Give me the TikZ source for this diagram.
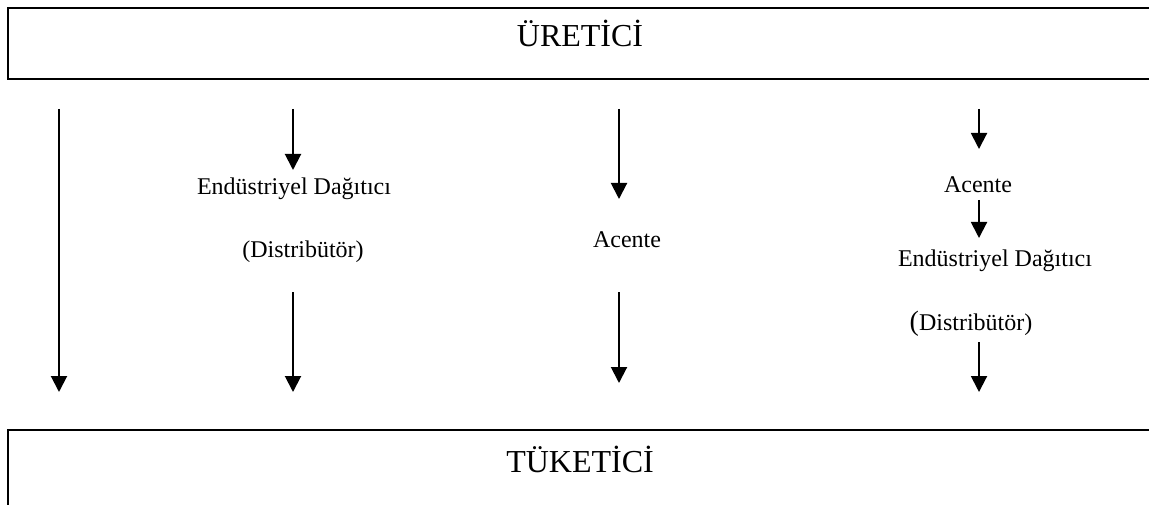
\documentclass[tikz,border=0pt]{standalone}
\usepackage{fontspec}
\setmainfont{Liberation Serif}
\usetikzlibrary{positioning, arrows.meta}
\tikzset{
    band/.style={draw, line width=1bp, minimum width=572bp, inner sep=0pt},
    bandtext/.style={anchor=base, inner sep=0pt, font=\fontsize{16bp}{19bp}\selectfont},
    chantext/.style={anchor=base, inner sep=0pt, font=\fontsize{12bp}{14bp}\selectfont},
    flow/.style={-{Triangle[length=8bp, width=8bp]}, line width=1bp}
}

\begin{document}
\begin{tikzpicture}[x=0.5bp, y=-0.5bp]
    \useasboundingbox (0,0) rectangle (1149,505);
    % producer and consumer bands (cut off at the page edge)
    \node[band, minimum height=35.5bp] (ureticibox) at (580,43.5) {};
    \node[bandtext] (uretici) at (580,47) {ÜRETİCİ};
    \node[band, minimum height=45bp] (tuketicibox) at (580,475) {};
    \node[bandtext] (tuketici) at (580,472) {TÜKETİCİ};

    % intermediaries
    \node[chantext] (dagitici2) at (294,195) {Endüstriyel Dağıtıcı};
    \node[chantext] (distrib2) at (303,258) {(Distribütör)};
    \node[chantext] (acente3) at (627,248) {Acente};
    \node[chantext] (acente4) at (978,193) {Acente};
    \node[chantext] (dagitici4) at (995,267) {Endüstriyel Dağıtıcı};
    \node[chantext] (distrib4) at (971,330) {{\fontsize{14bp}{16bp}\selectfont(}Distribütör)};

    % channel arrows
    \foreach \n/\x/\ya/\yb in {a/59/109/392, b/293/109/170, c/293/292/392,
                               d/619/109/199, e/619/292/383, f/979/109/149,
                               g/979/200/238, h/979/342/392} {
        \coordinate (s\n) at (\x,\ya);
        \coordinate (e\n) at (\x,\yb);
        \draw[flow] (s\n) -- (e\n);
    }
\end{tikzpicture}
\end{document}
